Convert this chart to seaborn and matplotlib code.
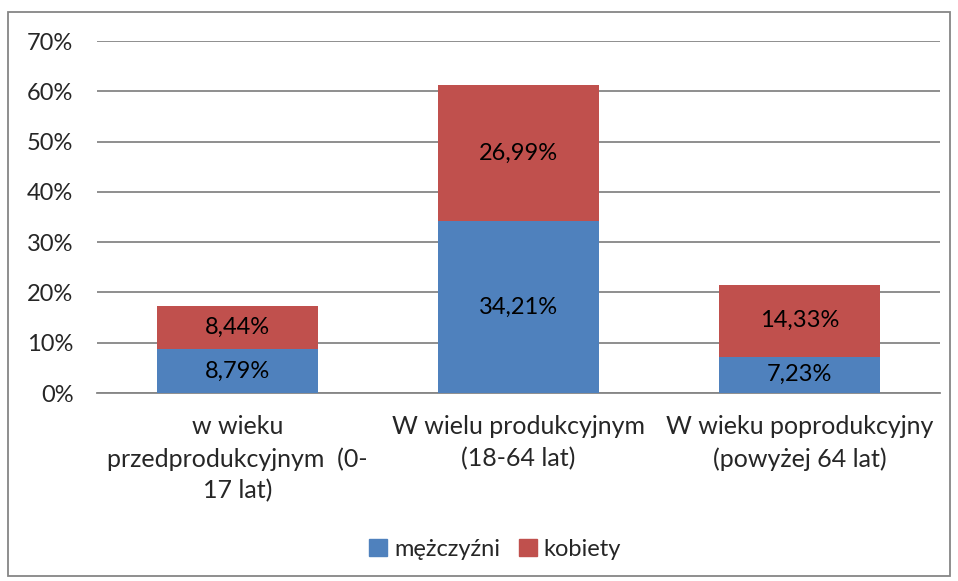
import pandas as pd
import seaborn as sns
import matplotlib.pyplot as plt
from matplotlib.patches import Rectangle, Patch
from matplotlib.ticker import PercentFormatter

# data
categories = ['w wieku\nprzedprodukcyjnym  (0-\n17 lat)',
              'W wielu produkcyjnym\n(18-64 lat)',
              'W wieku poprodukcyjny\n(powyżej 64 lat)']
men = [8.79, 34.21, 7.23]
women = [8.44, 26.99, 14.33]
series_names = ['mężczyźni', 'kobiety']

blue = '#4F81BD'
red = '#C0504D'

df = pd.DataFrame({'cat': categories, 'men': men, 'women': women})
df['total'] = df['men'] + df['women']

sns.set_theme(style='white')
plt.rcParams['font.family'] = ['Lato', 'DejaVu Sans']

fig = plt.figure(figsize=(9.58, 5.81), dpi=100)
ax = fig.add_axes([97 / 958, 1 - 393 / 581, (940 - 97) / 958, (393 - 41) / 581])

# stacked: total in red, men in blue over it
sns.barplot(data=df, x='cat', y='total', color=red, saturation=1, width=0.573,
            ax=ax, linewidth=0, zorder=3)
sns.barplot(data=df, x='cat', y='men', color=blue, saturation=1, width=0.573,
            ax=ax, linewidth=0, zorder=3)

fs = 17
for i, row in df.iterrows():
    ax.text(i, row['men'] / 2, f"{row['men']:.2f}%".replace('.', ','),
            ha='center', va='center', fontsize=fs, color='black', zorder=4)
    ax.text(i, row['men'] + row['women'] / 2, f"{row['women']:.2f}%".replace('.', ','),
            ha='center', va='center', fontsize=fs, color='black', zorder=4)

ax.set_ylim(0, 70)
ax.set_yticks(range(0, 71, 10))
ax.yaxis.set_major_formatter(PercentFormatter(decimals=0))
ax.set_xlim(-0.5, 2.5)
ax.grid(axis='y', color='#868686', linewidth=1.3, zorder=0)
ax.set_axisbelow(True)
for s in ['top', 'right', 'left']:
    ax.spines[s].set_visible(False)
ax.spines['bottom'].set_color('#868686')
ax.spines['bottom'].set_linewidth(1.3)
ax.set_xlabel('')
ax.set_ylabel('')
ax.tick_params(axis='y', labelsize=fs, pad=17, length=0)
ax.tick_params(axis='x', labelsize=18, pad=16, length=0)
for lab in ax.get_xticklabels():
    lab.set_linespacing(1.45)

handles = [Patch(color=blue, label=series_names[0]), Patch(color=red, label=series_names[1])]
fig.legend(handles=handles, loc='center', bbox_to_anchor=(0.517, 1 - 549 / 581), ncol=2,
           frameon=False, fontsize=fs, handlelength=0.75, handleheight=0.75,
           handletextpad=0.3, columnspacing=0.8)

fig.patches.append(Rectangle((8 / 958, 5 / 581), 942 / 958, 564 / 581, transform=fig.transFigure,
                             fill=False, edgecolor='#868686', linewidth=1.3))

fig.savefig('out.png', dpi=100)
